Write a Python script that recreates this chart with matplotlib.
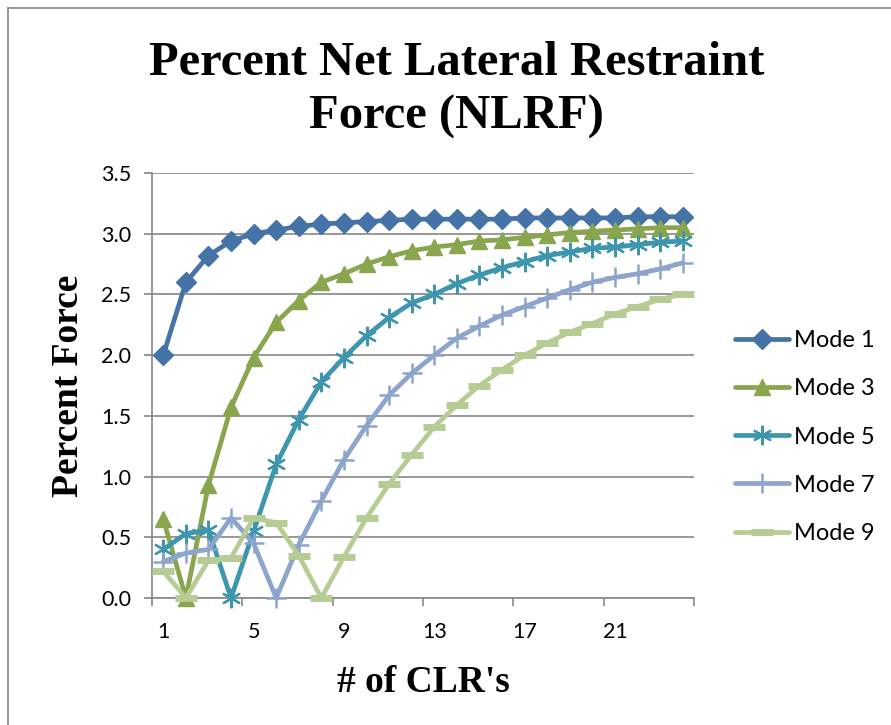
import numpy as np
import matplotlib
matplotlib.use("Agg")
import matplotlib.pyplot as plt
from matplotlib.lines import Line2D

# ──────────────────────────────────────────────
# DADOS
# ──────────────────────────────────────────────

n_clr = np.arange(1, 25)

mode1 = [2.00, 2.60, 2.82, 2.94, 3.00, 3.03, 3.06, 3.08, 3.09, 3.10, 3.11, 3.12,
         3.12, 3.12, 3.12, 3.12, 3.13, 3.13, 3.13, 3.13, 3.13, 3.14, 3.14, 3.14]
mode3 = [0.65, 0.00, 0.93, 1.57, 1.98, 2.27, 2.45, 2.60, 2.67, 2.75, 2.81, 2.86,
         2.89, 2.91, 2.94, 2.95, 2.97, 2.99, 3.01, 3.02, 3.03, 3.04, 3.05, 3.05]
mode5 = [0.40, 0.53, 0.56, 0.00, 0.55, 1.10, 1.47, 1.78, 1.98, 2.16, 2.31, 2.43,
         2.50, 2.59, 2.66, 2.72, 2.77, 2.82, 2.85, 2.88, 2.89, 2.91, 2.93, 2.94]
mode7 = [0.30, 0.37, 0.40, 0.66, 0.45, 0.00, 0.44, 0.80, 1.14, 1.42, 1.67, 1.85,
         2.00, 2.14, 2.24, 2.33, 2.40, 2.47, 2.54, 2.60, 2.64, 2.67, 2.71, 2.76]
mode9 = [0.22, 0.00, 0.31, 0.33, 0.66, 0.62, 0.35, 0.00, 0.34, 0.66, 0.94, 1.18,
         1.41, 1.59, 1.75, 1.88, 2.00, 2.10, 2.19, 2.26, 2.34, 2.40, 2.46, 2.50]

labels = ["Mode 1", "Mode 3", "Mode 5", "Mode 7", "Mode 9"]
x_tick_labels = ["1", "5", "9", "13", "17", "21"]
y_ticks = [0.0, 0.5, 1.0, 1.5, 2.0, 2.5, 3.0, 3.5]

# ──────────────────────────────────────────────
# ESTILO
# ──────────────────────────────────────────────

cores = ["#4572A7", "#89A54E", "#3D96AE", "#8DA4CD", "#B6CC94"]
marcadores = ["D", "^", (6, 2, 0), "+", "_"]
tam_marc = [10.5, 12, 14, 15, 16]
borda_marc = [1, 1, 1.6, 1.8, 5]
cinza = "#868686"
fonte_tick = "Lato"
fonte_titulo = "Liberation Serif"

fig = plt.figure(figsize=(8.91, 7.25), dpi=100)
ax = fig.add_axes([152 / 891, 1 - 598 / 725, (694 - 152) / 891, (598 - 173) / 725])

series = [mode1, mode3, mode5, mode7, mode9]
for k, (vals, lab) in enumerate(zip(series, labels)):
    ax.plot(n_clr, vals, color=cores[k], linewidth=3.4, marker=marcadores[k],
            markersize=tam_marc[k], markerfacecolor=cores[k],
            markeredgecolor=cores[k], markeredgewidth=borda_marc[k],
            label=lab, clip_on=False, zorder=3 + k, solid_capstyle="round",
            solid_joinstyle="round")

ax.set_xlim(0.5, 24.5)
ax.set_ylim(0, 3.5)

# ticks do eixo x entre categorias, rótulos no centro
ax.set_xticks(np.arange(0.5, 25, 4))
ax.set_xticklabels([])
ax.set_xticks([1, 5, 9, 13, 17, 21], minor=True)
ax.set_xticklabels(x_tick_labels, minor=True, fontsize=15.5, family=fonte_tick)
ax.tick_params(axis="x", which="major", direction="out", length=6, color=cinza, width=1.2)
ax.tick_params(axis="x", which="minor", length=0, pad=17)

ax.set_yticks(y_ticks)
ax.set_yticklabels([f"{v:.1f}" for v in y_ticks], fontsize=15.5, family=fonte_tick)
ax.tick_params(axis="y", direction="out", length=6, color=cinza, width=1.2, pad=9)

ax.grid(axis="y", color=cinza, linewidth=1.2)
ax.set_axisbelow(True)
for s in ["top", "right"]:
    ax.spines[s].set_visible(False)
for s in ["left", "bottom"]:
    ax.spines[s].set_color(cinza)
    ax.spines[s].set_linewidth(1.2)

ax.set_ylabel("Percent Force", fontsize=27, fontweight="bold",
              family=fonte_titulo, labelpad=11)
ax.set_xlabel("# of CLR's", fontsize=27, fontweight="bold",
              family=fonte_titulo, labelpad=17)

fig.text(0.512, 1 - 90 / 725, "Percent Net Lateral Restraint\nForce (NLRF)",
         ha="center", va="center", fontsize=35, fontweight="bold",
         family=fonte_titulo, linespacing=1.3)

leg = fig.legend(loc="center left", bbox_to_anchor=(723 / 891, 1 - 437 / 725),
                 frameon=False, prop={"family": fonte_tick, "size": 17},
                 handlelength=2.3, labelspacing=1.15, handletextpad=0.2,
                 borderpad=0)

# moldura do gráfico (topo e esquerda)
fig.add_artist(Line2D([8 / 891, 1], [1 - 8 / 725, 1 - 8 / 725],
                      transform=fig.transFigure, color=cinza, linewidth=1.2))
fig.add_artist(Line2D([8 / 891, 8 / 891], [0, 1 - 8 / 725],
                      transform=fig.transFigure, color=cinza, linewidth=1.2))

fig.savefig("out.png", dpi=100)
